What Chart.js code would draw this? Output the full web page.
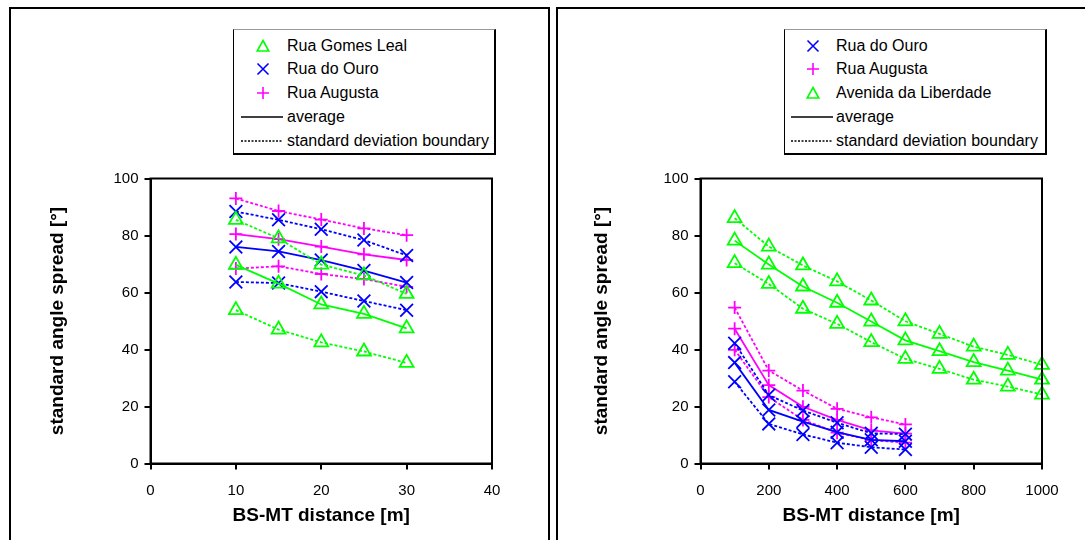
<!DOCTYPE html>
<html>
<head>
<meta charset="utf-8">
<script src="https://cdn.jsdelivr.net/npm/chart.js@4.4.1/dist/chart.umd.min.js"></script>
<style>
  html, body { margin: 0; padding: 0; background: #fff; }
  #page { position: relative; width: 1085px; height: 540px; overflow: hidden; font-family: "Liberation Sans", Arial, sans-serif; }
  .panel { position: absolute; top: 7px; height: 600px; border: 2px solid #000; box-sizing: border-box; }
  canvas { position: absolute; left: 0; top: 0; }
  .legend { position: absolute; top: 29px; width: 263px; height: 126px; background: #fff; box-sizing: border-box;
            border-top: 1px solid #999; border-left: 1px solid #000; border-right: 2px solid #000; border-bottom: 2px solid #000; }
  .lg { position: absolute; font-size: 16px; line-height: 20px; height: 20px; white-space: nowrap; color: #000; }
  .lg svg { position: absolute; }
</style>
</head>
<body>
<div id="page">
  <div class="panel" style="left:9px;width:541px"></div>
  <div class="panel" style="left:556px;width:560px"></div>
  <canvas id="leftChart" width="1085" height="540"></canvas>
  <canvas id="rightChart" width="1085" height="540"></canvas>
  <div class="legend" style="left:233px"></div>
  <div class="legend" style="left:784px"></div>
  <div id="legends"></div>
</div>
<script>
// left chart: Rua Gomes Leal / Rua do Ouro / Rua Augusta
const leftDistance = [10, 15, 20, 25, 30];
const gomesLealUpper = [85.5, 79.0, 69.8, 66.0, 59.5];
const gomesLealAvg = [69.7, 63.1, 55.8, 52.5, 47.4];
const gomesLealLower = [53.8, 47.0, 42.5, 39.3, 35.3];
const ouroLeftUpper = [88.4, 85.5, 82.2, 78.4, 73.0];
const ouroLeftAvg = [76.0, 74.4, 71.4, 67.7, 63.5];
const ouroLeftLower = [63.7, 63.3, 60.3, 57.0, 53.8];
const augustaLeftUpper = [93.0, 88.6, 85.6, 82.5, 80.1];
const augustaLeftAvg = [80.5, 78.7, 76.1, 73.4, 71.4];
const augustaLeftLower = [68.4, 69.2, 66.5, 64.7, 62.0];

// right chart: Rua do Ouro / Rua Augusta / Avenida da Liberdade
const shortDistance = [100, 200, 300, 400, 500, 600];
const longDistance = [100, 200, 300, 400, 500, 600, 700, 800, 900, 1000];
const ouroRightUpper = [42.2, 24.0, 18.6, 14.3, 10.6, 10.3];
const ouroRightAvg = [35.4, 18.8, 14.7, 11.0, 8.3, 7.8];
const ouroRightLower = [28.7, 13.9, 10.2, 7.3, 5.7, 4.9];
const augustaRightUpper = [54.7, 32.6, 25.6, 19.2, 16.2, 13.7];
const augustaRightAvg = [47.3, 27.5, 19.9, 15.3, 11.6, 10.5];
const augustaRightLower = [39.9, 23.3, 15.3, 10.8, 8.2, 7.3];
const liberdadeUpper = [86.1, 76.1, 69.5, 63.9, 57.2, 49.9, 45.5, 41.0, 38.1, 34.6];
const liberdadeAvg = [78.2, 69.8, 62.1, 56.4, 49.8, 43.2, 39.4, 35.6, 32.6, 29.4];
const liberdadeLower = [70.3, 63.0, 54.3, 49.0, 42.6, 36.7, 33.2, 29.4, 27.0, 24.2];

// axis ticks
const leftXTicks = [0, 10, 20, 30, 40];
const rightXTicks = [0, 200, 400, 600, 800, 1000];
const yTicks = [0, 20, 40, 60, 80, 100];

const GREEN = '#00ff00';
const BLUE = '#0000ff';
const MAGENTA = '#ff00ff';
const FONT = '"Liberation Sans", Arial, sans-serif';

const markers = {
    triangle: { style: 'triangle', radius: 8 },
    x: { style: 'crossRot', radius: 9 },
    plus: { style: 'cross', radius: 6.5 }
};

function street(x, upper, avg, lower, color, marker) {
    return [
        { x: x, y: upper, color: color, marker: marker, dash: true },
        { x: x, y: avg, color: color, marker: marker, dash: false },
        { x: x, y: lower, color: color, marker: marker, dash: true }
    ];
}

// box round the plot area
const framePlugin = {
    id: 'frame',
    afterDraw(chart) {
        const a = chart.chartArea;
        const ctx = chart.ctx;
        ctx.save();
        ctx.strokeStyle = '#000';
        ctx.lineWidth = 2;
        ctx.strokeRect(a.left, a.top, a.right - a.left, a.bottom - a.top);
        ctx.restore();
    }
};

function makeChart(id, opts) {

    const datasets = opts.series.map(s => ({
        data: s.x.map((x, i) => ({ x: x, y: s.y[i] })),
        borderColor: s.color,
        borderWidth: 1.8,
        borderDash: s.dash ? [3, 2] : [],
        pointStyle: markers[s.marker].style,
        pointRadius: markers[s.marker].radius,
        pointBorderColor: s.color,
        pointBackgroundColor: 'rgba(0,0,0,0)',
        pointBorderWidth: 1.8,
        tension: 0,
        fill: false,
        clip: false
    }));

    return new Chart(document.getElementById(id), {
        type: 'line',
        data: { datasets: datasets },
        options: {
            responsive: false,
            animation: false,
            devicePixelRatio: 1,
            layout: {
                padding: { left: opts.padLeft, top: 178.5, right: 1085 - opts.plotRight, bottom: 0 }
            },
            plugins: {
                legend: { display: false },
                tooltip: { enabled: false }
            },
            scales: {
                x: {
                    type: 'linear',
                    min: 0,
                    max: opts.xTicks[opts.xTicks.length - 1],
                    afterBuildTicks: scale => { scale.ticks = opts.xTicks.map(v => ({ value: v })); },
                    afterFit: scale => { scale.height = 540 - 463.5; },
                    ticks: {
                        color: '#000',
                        font: { family: FONT, size: 15 },
                        padding: 12,
                        maxRotation: 0,
                        callback: v => String(v)
                    },
                    grid: { drawOnChartArea: false, color: '#000', lineWidth: 2, tickLength: 6 },
                    border: { color: '#000', width: 2 },
                    title: {
                        display: true,
                        text: 'BS-MT distance [m]',
                        color: '#000',
                        font: { family: FONT, size: 19, weight: 'bold' },
                        padding: { top: 0, bottom: 12.6 }
                    }
                },
                y: {
                    type: 'linear',
                    min: 0,
                    max: 100,
                    afterBuildTicks: scale => { scale.ticks = yTicks.map(v => ({ value: v })); },
                    afterFit: scale => { scale.width = opts.plotLeft - opts.padLeft; },
                    ticks: { color: '#000', font: { family: FONT, size: 15 }, padding: 6, callback: v => String(v) },
                    grid: { drawOnChartArea: false, color: '#000', lineWidth: 2, tickLength: 6 },
                    border: { color: '#000', width: 2 },
                    title: {
                        display: true,
                        text: 'standard angle spread [°]',
                        color: '#000',
                        font: { family: FONT, size: 19, weight: 'bold' },
                        padding: { top: opts.yTitleX - opts.padLeft - 11.4, bottom: 0 }
                    }
                }
            }
        },
        plugins: [framePlugin]
    });
}

makeChart('leftChart', {
    padLeft: 0, plotLeft: 150.5, plotRight: 492, yTitleX: 58,
    xTicks: leftXTicks,
    series: [].concat(
        street(leftDistance, gomesLealUpper, gomesLealAvg, gomesLealLower, GREEN, 'triangle'),
        street(leftDistance, ouroLeftUpper, ouroLeftAvg, ouroLeftLower, BLUE, 'x'),
        street(leftDistance, augustaLeftUpper, augustaLeftAvg, augustaLeftLower, MAGENTA, 'plus')
    )
});

makeChart('rightChart', {
    padLeft: 556, plotLeft: 700.5, plotRight: 1042, yTitleX: 602,
    xTicks: rightXTicks,
    series: [].concat(
        street(shortDistance, ouroRightUpper, ouroRightAvg, ouroRightLower, BLUE, 'x'),
        street(shortDistance, augustaRightUpper, augustaRightAvg, augustaRightLower, MAGENTA, 'plus'),
        street(longDistance, liberdadeUpper, liberdadeAvg, liberdadeLower, GREEN, 'triangle')
    )
});

// legends (HTML)
const leftLegend = [
    { kind: 'triangle', color: GREEN, text: 'Rua Gomes Leal' },
    { kind: 'x', color: BLUE, text: 'Rua do Ouro' },
    { kind: 'plus', color: MAGENTA, text: 'Rua Augusta' },
    { kind: 'solid', color: '#000', text: 'average' },
    { kind: 'dotted', color: '#000', text: 'standard deviation boundary' }
];
const rightLegend = [
    { kind: 'x', color: BLUE, text: 'Rua do Ouro' },
    { kind: 'plus', color: MAGENTA, text: 'Rua Augusta' },
    { kind: 'triangle', color: GREEN, text: 'Avenida da Liberdade' },
    { kind: 'solid', color: '#000', text: 'average' },
    { kind: 'dotted', color: '#000', text: 'standard deviation boundary' }
];
const legendRowsY = [46, 69, 93, 117, 141];

function legendSymbol(kind, color) {
    const st = 'stroke="' + color + '" stroke-width="1.6" fill="none"';
    if (kind === 'triangle') return '<svg width="14" height="14" style="left:-7px;top:-7px"><polygon points="7,1.5 12.8,12 1.2,12" ' + st + '/></svg>';
    if (kind === 'x') return '<svg width="14" height="14" style="left:-7px;top:-7px"><path d="M1.5,1.5 L12.5,12.5 M12.5,1.5 L1.5,12.5" ' + st + '/></svg>';
    if (kind === 'plus') return '<svg width="14" height="14" style="left:-7px;top:-7px"><path d="M7,1 L7,13 M1,7 L13,7" ' + st + '/></svg>';
    const dash = kind === 'dotted' ? ' stroke-dasharray="2,1.5"' : '';
    return '<svg width="42" height="4" style="left:-22px;top:-2px"><path d="M0,2 L42,2" stroke="#000" stroke-width="1.5"' + dash + '/></svg>';
}

function buildLegend(items, markerX, textX) {
    let html = '';
    items.forEach((it, i) => {
        const y = legendRowsY[i];
        html += '<div class="lg" style="left:' + markerX + 'px;top:' + y + 'px;height:0">' + legendSymbol(it.kind, it.color) + '</div>';
        html += '<div class="lg" style="left:' + textX + 'px;top:' + (y - 10) + 'px">' + it.text + '</div>';
    });
    return html;
}

document.getElementById('legends').innerHTML =
    buildLegend(leftLegend, 263, 287) + buildLegend(rightLegend, 813, 836);
</script>
</body>
</html>
